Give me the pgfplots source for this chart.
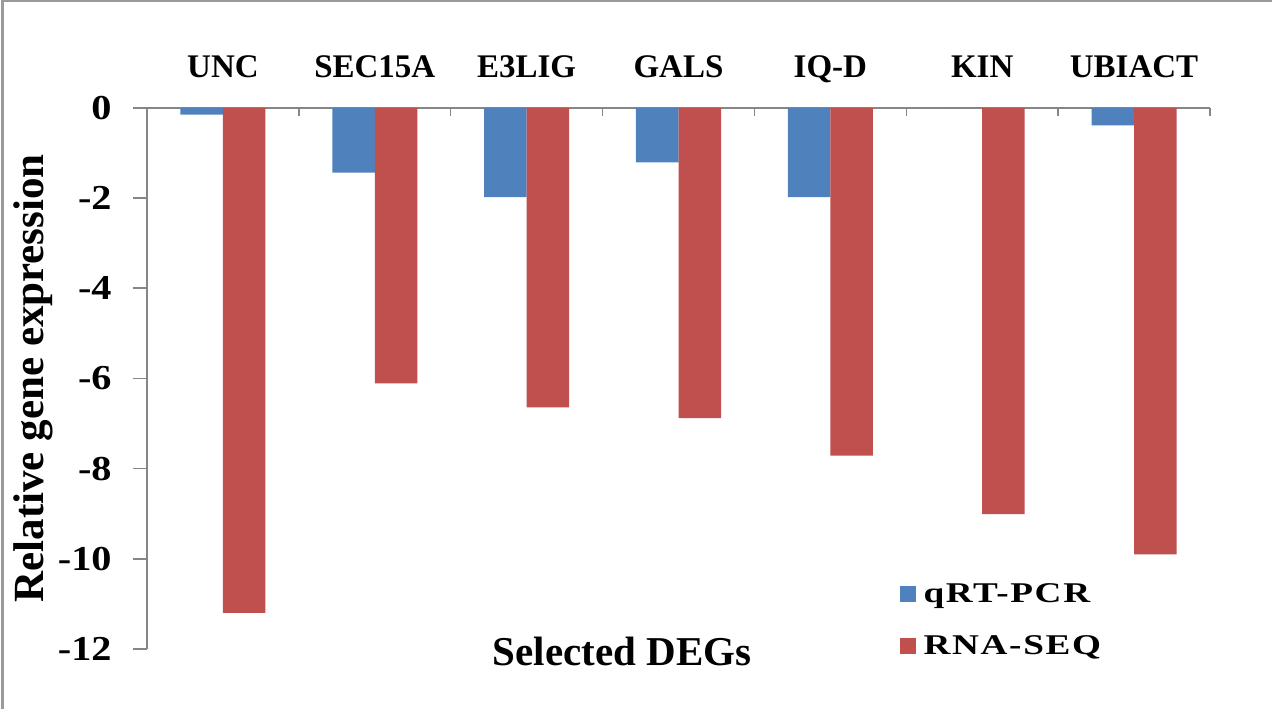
\documentclass[border=0pt]{standalone}
\usepackage{pgfplots}
\pgfplotsset{compat=1.18}
\usepackage{fontspec}
\setmainfont{Liberation Serif}
% slightly widened faces for the tick numbers and the legend
\newfontfamily\widefont{Liberation Serif}[FakeStretch=1.15]
\newfontfamily\legfont{Liberation Serif}[FakeStretch=1.3, LetterSpace=6]

\definecolor{qblue}{HTML}{4F81BD}
\definecolor{rred}{HTML}{C0504D}
\definecolor{axgray}{HTML}{868686}
\definecolor{framegray}{HTML}{9A9A9A}

\begin{document}
\begin{tikzpicture}
\useasboundingbox (0,0) rectangle (636pt,354.5pt);
\draw[framegray, line width=1.2pt] (1.2pt,0) -- (1.2pt,353.9pt) -- (636pt,353.9pt);
\begin{axis}[
  at={(73.5pt,30pt)}, anchor=south west,
  scale only axis, width=531.5pt, height=270.6pt,
  xmin=-0.5, xmax=6.5, ymin=-12, ymax=0,
  axis x line*=top, axis y line*=left,
  axis line style={draw=axgray, line width=0.75pt, -},
  tick align=inside,
  major tick length=7pt, minor tick length=4pt,
  xtick={0,...,6},
  xticklabels={UNC,SEC15A,E3LIG,GALS,IQ-D,KIN,UBIACT},
  xticklabel pos=upper,
  major x tick style={draw=none},
  minor xtick={-0.5,0.5,...,6.5},
  minor x tick style={draw=axgray, line width=0.75pt},
  xticklabel style={anchor=base, inner sep=0pt, yshift=15.3pt,
    font=\bfseries\fontsize{16.5}{19}\selectfont},
  ytick={-12,-10,-8,-6,-4,-2,0},
  yticklabels={-12,-10,-8,-6,-4,-2,0},
  major y tick style={draw=axgray, line width=0.75pt, xshift=-7pt},
  yticklabel style={anchor=east, inner sep=0pt, xshift=-17.5pt,
    font=\widefont\bfseries\fontsize{17.5}{20}\selectfont},
  xlabel={Selected DEGs},
  xlabel style={at={(axis description cs:0.447,-0.0296)}, anchor=base,
    inner sep=0pt, font=\bfseries\fontsize{20.5}{24}\selectfont},
  ylabel={Relative gene expression},
  ylabel style={at={(axis description cs:-0.097,0.5)}, anchor=base,
    inner sep=0pt, font=\bfseries\fontsize{21.5}{25}\selectfont},
  legend style={at={(axis description cs:0.708,0.128)}, anchor=north west,
    draw=none, fill=none, inner sep=0pt, row sep=12pt, column sep=2.5pt,
    font=\legfont\bfseries\fontsize{14.3}{16}\selectfont,
    nodes={inner sep=1.5pt}},
  legend cell align=left,
  legend image code/.code={\fill[#1] (0pt,-3.875pt) rectangle (7.75pt,3.875pt);},
]
% qRT-PCR
\addplot[ybar, fill=qblue, draw=none, bar width=0.28, bar shift=-0.14]
  coordinates {(0,-0.15) (1,-1.44) (2,-1.98) (3,-1.21) (4,-1.98) (5,0) (6,-0.39)};
% RNA-SEQ
\addplot[ybar, fill=rred, draw=none, bar width=0.28, bar shift=0.14]
  coordinates {(0,-11.2) (1,-6.11) (2,-6.64) (3,-6.88) (4,-7.71) (5,-9.01) (6,-9.9)};
\legend{qRT-PCR,RNA-SEQ}
\end{axis}
\end{tikzpicture}
\end{document}
